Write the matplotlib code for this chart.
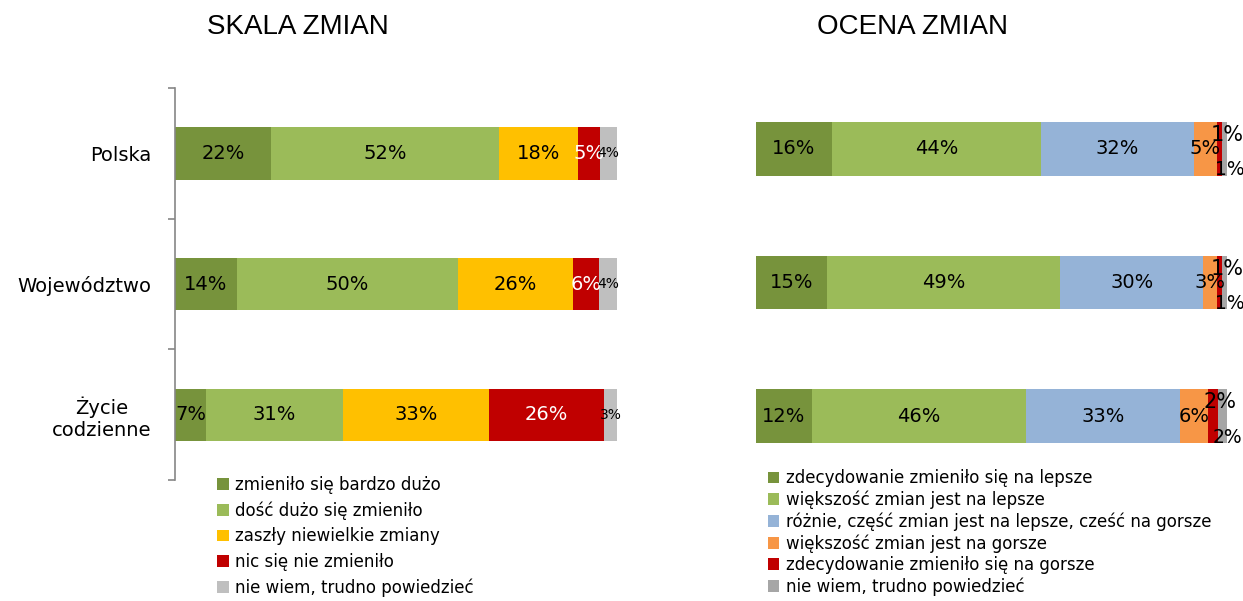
import matplotlib.pyplot as plt
import numpy as np

categories = ['Polska', 'Województwo', 'Życie\ncodzienne']

skala_names = ['zmieniło się bardzo dużo', 'dość dużo się zmieniło', 'zaszły niewielkie zmiany',
               'nic się nie zmieniło', 'nie wiem, trudno powiedzieć']
skala_values = [[22, 52, 18, 5, 4],
                [14, 50, 26, 6, 4],
                [7, 31, 33, 26, 3]]
skala_colors = ['#77933C', '#9BBB59', '#FFC000', '#C00000', '#BFBFBF']

ocena_names = ['zdecydowanie zmieniło się na lepsze', 'większość zmian jest na lepsze',
               'różnie, część zmian jest na lepsze, cześć na gorsze', 'większość zmian jest na gorsze',
               'zdecydowanie zmieniło się na gorsze', 'nie wiem, trudno powiedzieć']
ocena_values = [[16, 44, 32, 5, 1, 1],
                [15, 49, 30, 3, 1, 1],
                [12, 46, 33, 6, 2, 2]]
ocena_colors = ['#77933C', '#9BBB59', '#95B3D7', '#F79646', '#C00000', '#A6A6A6']


def stacked(ax, values, colors, names, label_style):
    vals = np.array(values, dtype=float)
    shares = vals / vals.sum(axis=1, keepdims=True) * 100
    y = np.arange(len(vals))
    left = np.zeros(len(vals))
    handles = []
    for j in range(vals.shape[1]):
        bars = ax.barh(y, shares[:, j], left=left, height=0.4, color=colors[j],
                       edgecolor='none', label=names[j])
        handles.append(bars)
        for i in range(len(vals)):
            cx = left[i] + shares[i, j] / 2
            color, size, dx, dy = label_style(i, j)
            ax.annotate(f'{int(vals[i, j])}%', (cx, y[i]), xytext=(dx, dy),
                        textcoords='offset points', ha='center', va='center',
                        color=color, fontsize=size)
        left += shares[:, j]
    ax.set_xlim(0, 100)
    ax.set_ylim(len(vals) - 0.5, -0.5)
    return handles


def skala_style(i, j):
    if j == 3:
        return 'white', 14, 0, 0
    if j == 4:
        return 'black', 10, 0, 0
    return 'black', 14, 0, 0


def ocena_style(i, j):
    # offsets in points, positive dy moves the text up
    if j == 4:
        return 'black', 15, 5, 10
    if j == 5:
        return 'black', 13.5, 4, -15
    return 'black', 14, 0, 0


fig = plt.figure(figsize=(12.43, 6.01), dpi=100)

ax1 = fig.add_axes([0.1408, 0.2013, 0.3556, 0.6522])
h1 = stacked(ax1, skala_values, skala_colors, skala_names, skala_style)
for s in ['top', 'right', 'bottom']:
    ax1.spines[s].set_visible(False)
ax1.spines['left'].set_color('#868686')
ax1.spines['left'].set_linewidth(1.2)
ax1.set_xticks([])
ax1.set_yticks(range(len(categories)))
ax1.set_yticklabels(categories, fontsize=14, ha='right', multialignment='center')
ax1.tick_params(axis='y', which='major', length=0, pad=17)
ax1.set_yticks(np.arange(-0.5, len(categories)), minor=True)
ax1.tick_params(axis='y', which='minor', length=5, color='#868686', width=1.2)

ax2 = fig.add_axes([0.6082, 0.1963, 0.3789, 0.6672])
h2 = stacked(ax2, ocena_values, ocena_colors, ocena_names, ocena_style)
ax2.axis('off')

fig.text(0.24, 0.955, 'SKALA ZMIAN', ha='center', va='center', fontsize=20,
         family='Liberation Sans')
fig.text(0.7345, 0.955, 'OCENA ZMIAN', ha='center', va='center', fontsize=20,
         family='Liberation Sans')

fig.legend(handles=h1, labels=skala_names, loc='upper left', bbox_to_anchor=(0.168, 0.222),
           frameon=False, fontsize=12, handlelength=0.7, handleheight=0.7,
           handletextpad=0.4, labelspacing=0.45, borderpad=0)
fig.legend(handles=h2, labels=ocena_names, loc='upper left', bbox_to_anchor=(0.611, 0.233),
           frameon=False, fontsize=12, handlelength=0.7, handleheight=0.7,
           handletextpad=0.4, labelspacing=0.2, borderpad=0)

fig.savefig('out.png', dpi=100)
